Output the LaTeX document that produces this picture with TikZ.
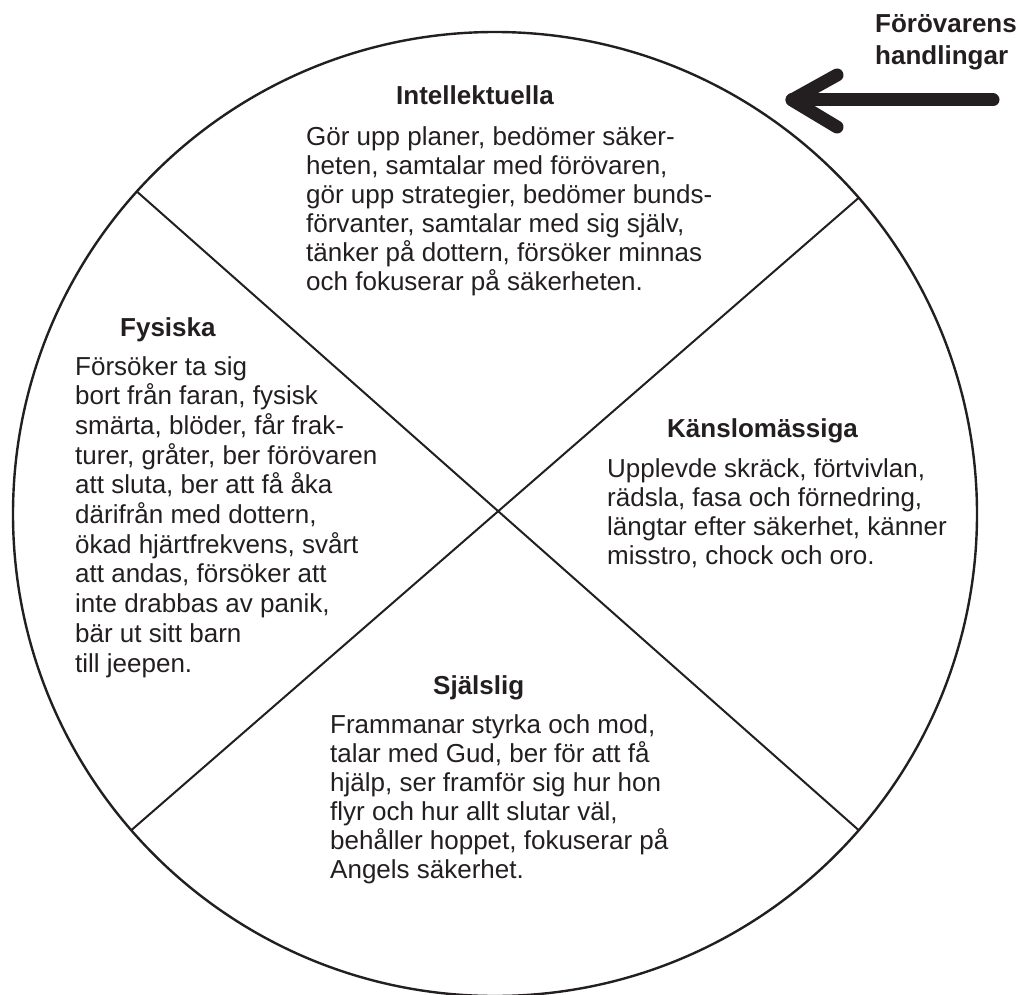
\documentclass[tikz,border=0pt]{standalone}
\usepackage{fontspec}
\setmainfont{Liberation Sans}
\definecolor{ink}{HTML}{231F20}
\begin{document}
\begin{tikzpicture}[x=1pt,y=-1pt,
		head/.style={anchor=base west,inner sep=0,text=ink,font=\fontsize{26}{29}\selectfont\bfseries},
		body/.style={anchor=base west,inner sep=0,text=ink,align=left,font=\fontsize{26}{29}\selectfont}]
			\useasboundingbox (0,0) rectangle (1022,995);
			%wheel
			\node[circle,draw=ink,line width=2.4pt,minimum size=964pt,inner sep=0,outer sep=0] (wheel) at (495,514){};
			\draw[ink,line width=2pt] (wheel.138.5) -- (wheel.-41.5);
			\draw[ink,line width=2pt] (wheel.41.5) -- (wheel.221.5);
			
			%arrow
			\coordinate (tail) at (993,100);
			\coordinate (tip) at (792,100);
			\coordinate (armTop) at (837,75);
			\coordinate (armBot) at (837,127);
			\draw[ink,line width=13pt,line cap=round,line join=round] (tail) -- (tip);
			\draw[ink,line width=13pt,line cap=round,line join=round] (armTop) -- (tip) -- (armBot);
			%base west of a text block = baseline of its last line
			\node[body,font=\fontsize{26}{32}\selectfont\bfseries] (actor) at (875,65){Förövarens\\handlingar};
			
			%quarters
			\node[head] (intHead) at (396,105){Intellektuella};
			\node[body] (intText) at (306,290){Gör upp planer, bedömer säker-\\heten, samtalar med förövaren,\\gör upp strategier, bedömer bunds-\\förvanter, samtalar med sig själv,\\tänker på dottern, försöker minnas\\och fokuserar på säkerheten.};
			
			\node[head] (fysHead) at (120,336){Fysiska};
			\node[body,font=\fontsize{26}{29.7}\selectfont] (fysText) at (75,672){Försöker ta sig\\bort från faran, fysisk\\smärta, blöder, får frak-\\turer, gråter, ber förövaren\\att sluta, ber att få åka\\därifrån med dottern,\\ökad hjärtfrekvens, svårt\\att andas, försöker att\\inte drabbas av panik,\\bär ut sitt barn\\till jeepen.};
			
			\node[head] (kanHead) at (667,437){Känslomässiga};
			\node[body] (kanText) at (607,564){Upplevde skräck, förtvivlan,\\rädsla, fasa och förnedring,\\längtar efter säkerhet, känner\\misstro, chock och oro.};
			
			\node[head] (sjaHead) at (433,694){Själslig};
			\node[body] (sjaText) at (330,878){Frammanar styrka och mod,\\talar med Gud, ber för att få\\hjälp, ser framför sig hur hon\\flyr och hur allt slutar väl,\\behåller hoppet, fokuserar på\\Angels säkerhet.};
		\end{tikzpicture}
\end{document}
